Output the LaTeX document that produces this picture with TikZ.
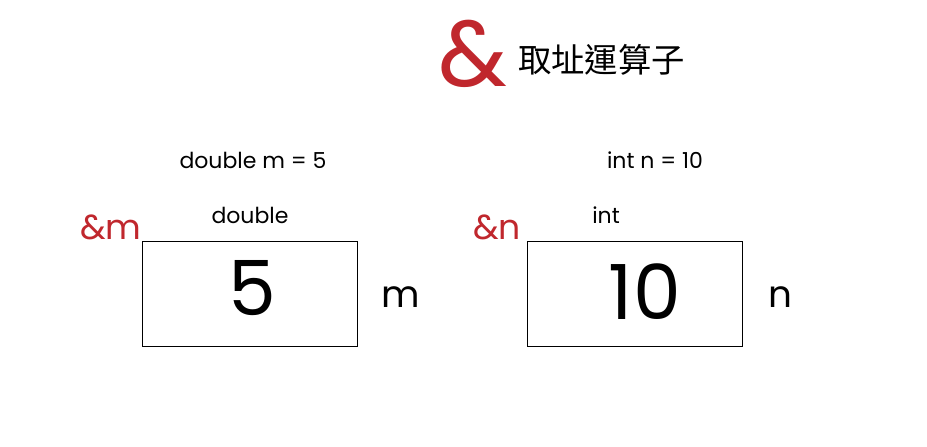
\documentclass[tikz,border=0pt]{standalone}
\usepackage{fontspec}
\setmainfont{Poppins}
\newfontfamily\cjk{Noto Sans CJK TC}
\definecolor{ampred}{RGB}{192,39,45}
\begin{document}
\begin{tikzpicture}[x=0.75pt,y=-0.75pt,
  cell/.style={draw=black,line width=0.75pt,minimum width=161.25pt,minimum height=78.75pt,inner sep=0pt,anchor=north west},
  bignum/.style={font=\fontsize{57}{60}\selectfont},
  varname/.style={font=\fontsize{28}{32}\selectfont},
  addr/.style={font=\fontsize{26}{30}\selectfont,text=ampred},
  label/.style={font=\fontsize{16.5}{20}\selectfont},
  every node/.style={inner sep=0pt}]
\useasboundingbox (0,0) rectangle (927,446);
% title
\node[font=\fontsize{70}{72}\selectfont,text=ampred] (amp) at (473,54) {\&};
\node[font=\cjk\fontsize{25}{28}\selectfont,anchor=west] (title) at (518,60) {取址運算子};
% left
\node[label] (decl1) at (253,160) {double m = 5};
\node[label] (type1) at (250,215) {double};
\node[cell] (box1) at (142,241) {};
\node[bignum] (v1) at (252,288) {5};
\node[varname] (name1) at (401,297) {m};
\node[addr] (adr1) at (111,227) {\&m};
% right
\node[label] (decl2) at (655,160) {int n = 10};
\node[label] (type2) at (606,215) {int};
\node[cell] (box2) at (527,241) {};
\node[bignum] (v2) at (645,292) {10};
\node[varname] (name2) at (780,297) {n};
\node[addr] (adr2) at (497,227) {\&n};
\end{tikzpicture}
\end{document}
